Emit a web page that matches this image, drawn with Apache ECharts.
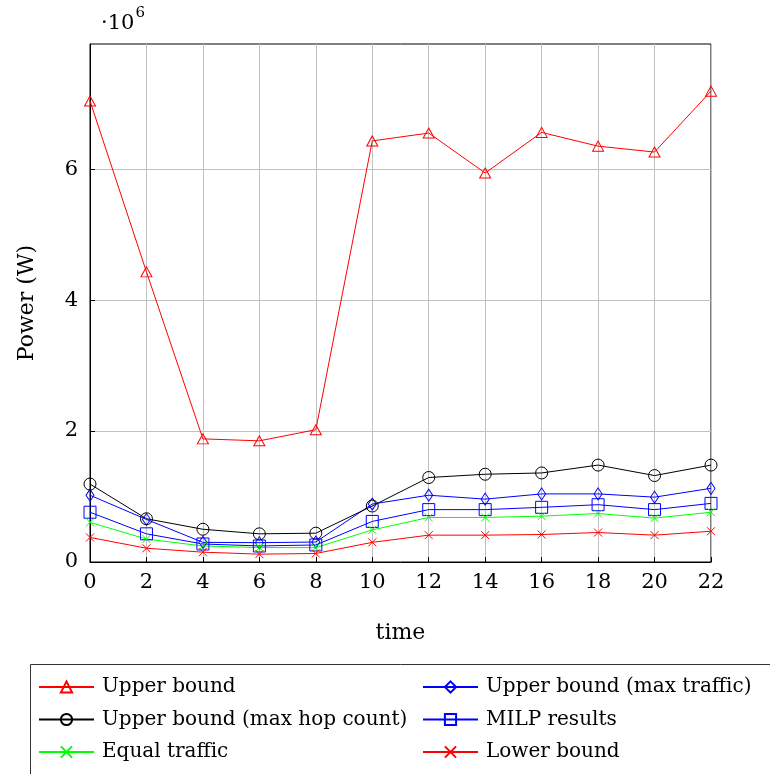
<!DOCTYPE html>
<html>
<head>
<meta charset="utf-8">
<script src="https://cdn.jsdelivr.net/npm/echarts@6/dist/echarts.min.js"></script>
<style>
  html, body { margin: 0; padding: 0; background: #fff; }
  #chart { width: 770px; height: 774px; }
</style>
</head>
<body>
<div id="chart"></div>
<script>
// Hours of the day (x axis)
const hours = [0, 2, 4, 6, 8, 10, 12, 14, 16, 18, 20, 22];
const xTicks = [0, 2, 4, 6, 8, 10, 12, 14, 16, 18, 20, 22];
const yTicks = [0, 2e6, 4e6, 6e6];

// Power in watts
const upperBound       = [7.04e6, 4.43e6, 1.88e6, 1.85e6, 2.02e6, 6.43e6, 6.55e6, 5.94e6, 6.56e6, 6.35e6, 6.26e6, 7.19e6];
const upperMaxHop      = [1.19e6, 0.66e6, 0.50e6, 0.43e6, 0.44e6, 0.855e6, 1.29e6, 1.34e6, 1.36e6, 1.48e6, 1.32e6, 1.48e6];
const upperMaxTraffic  = [1.02e6, 0.65e6, 0.30e6, 0.295e6, 0.305e6, 0.885e6, 1.02e6, 0.96e6, 1.04e6, 1.04e6, 0.99e6, 1.125e6];
const milpResults      = [0.76e6, 0.43e6, 0.275e6, 0.245e6, 0.26e6, 0.62e6, 0.80e6, 0.80e6, 0.835e6, 0.875e6, 0.80e6, 0.895e6];
const equalTraffic     = [0.605e6, 0.35e6, 0.245e6, 0.22e6, 0.22e6, 0.49e6, 0.68e6, 0.68e6, 0.70e6, 0.74e6, 0.67e6, 0.76e6];
const lowerBound       = [0.375e6, 0.21e6, 0.15e6, 0.12e6, 0.13e6, 0.30e6, 0.41e6, 0.41e6, 0.42e6, 0.45e6, 0.41e6, 0.47e6];

const FONT = 'DejaVu Serif';
const CROSS = 'path://M0,0L10,10M10,0L0,10';

function pairs(ys) { return hours.map((h, i) => [h, ys[i]]); }

function makeSeries(name, ys, color, symbol, size) {
  return {
    name: name,
    type: 'line',
    data: pairs(ys),
    symbol: symbol,
    symbolSize: size,
    showAllSymbol: true,
    lineStyle: { color: color, width: 1 },
    itemStyle: { color: 'rgba(255,255,255,0)', borderColor: color, borderWidth: 1 },
    emphasis: { disabled: true },
    animation: false,
    z: 3
  };
}

const chart = echarts.init(document.getElementById('chart'), null, { renderer: 'canvas' });

const legendText = { fontFamily: FONT, fontSize: 20, lineHeight: 20, color: '#000', padding: [0, 0, 0, 3] };
const legendBase = {
  orient: 'vertical', top: 677, padding: 0,
  itemWidth: 55, itemHeight: 14, itemGap: 12.5,
  textStyle: legendText
};

chart.setOption({
  backgroundColor: '#fff',
  animation: false,
  grid: { left: 90, right: 59, top: 44, bottom: 212, show: true, borderColor: '#000', borderWidth: 1, backgroundColor: 'transparent' },
  xAxis: {
    type: 'value',
    min: 0, max: 22, interval: 2,
    name: 'time',
    nameLocation: 'middle',
    nameGap: 60,
    nameTextStyle: { fontFamily: FONT, fontSize: 22, color: '#000' },
    axisLine: { show: true, lineStyle: { color: '#000' } },
    axisTick: { show: true, inside: true, length: 5, lineStyle: { color: '#000' } },
    axisLabel: { fontFamily: FONT, fontSize: 21, color: '#000', margin: 10,
      customValues: xTicks, formatter: v => String(v) },
    splitLine: { show: true, lineStyle: { color: '#c0c0c0', width: 1 } }
  },
  yAxis: {
    type: 'value',
    min: 0, max: 7.91e6, interval: 2e6,
    name: 'Power (W)',
    nameLocation: 'middle',
    nameGap: 52,
    nameRotate: 90,
    nameTextStyle: { fontFamily: FONT, fontSize: 22, color: '#000' },
    axisLine: { show: true, lineStyle: { color: '#000' } },
    axisTick: { show: true, inside: true, length: 5, lineStyle: { color: '#000' }, customValues: yTicks },
    axisLabel: { fontFamily: FONT, fontSize: 21, color: '#000', margin: 12,
      customValues: yTicks, formatter: v => String(Math.round(v / 1e6)) },
    splitLine: { show: true, lineStyle: { color: '#c0c0c0', width: 1 } }
  },
  legend: [
    Object.assign({}, legendBase, { left: 38,
      data: ['Upper bound', 'Upper bound (max hop count)', 'Equal traffic'] }),
    Object.assign({}, legendBase, { left: 422,
      data: ['Upper bound (max traffic)', 'MILP results', 'Lower bound'] })
  ],
  graphic: [
    {
      type: 'rect', left: 28, top: 662, z: 0,
      shape: { width: 800, height: 200 },
      style: { fill: 'none', stroke: '#333', lineWidth: 1 }
    },
    {
      type: 'text', left: 101, top: 6,
      style: {
        text: '{b|·10}{s|6}',
        rich: {
          b: { fontFamily: FONT, fontSize: 21, fill: '#000', verticalAlign: 'bottom', lineHeight: 28 },
          s: { fontFamily: FONT, fontSize: 15, fill: '#000', verticalAlign: 'top', lineHeight: 28, padding: [0, 0, 12, 1] }
        }
      }
    }
  ],
  series: [
    makeSeries('Upper bound', upperBound, '#ff0000', 'triangle', [11, 10]),
    makeSeries('Upper bound (max traffic)', upperMaxTraffic, '#0000ff', 'diamond', [8, 12]),
    makeSeries('Upper bound (max hop count)', upperMaxHop, '#000000', 'circle', 12),
    makeSeries('MILP results', milpResults, '#0000ff', 'rect', 12),
    makeSeries('Equal traffic', equalTraffic, '#00ff00', CROSS, 8),
    makeSeries('Lower bound', lowerBound, '#ff0000', CROSS, 8)
  ]
});
</script>
</body>
</html>
